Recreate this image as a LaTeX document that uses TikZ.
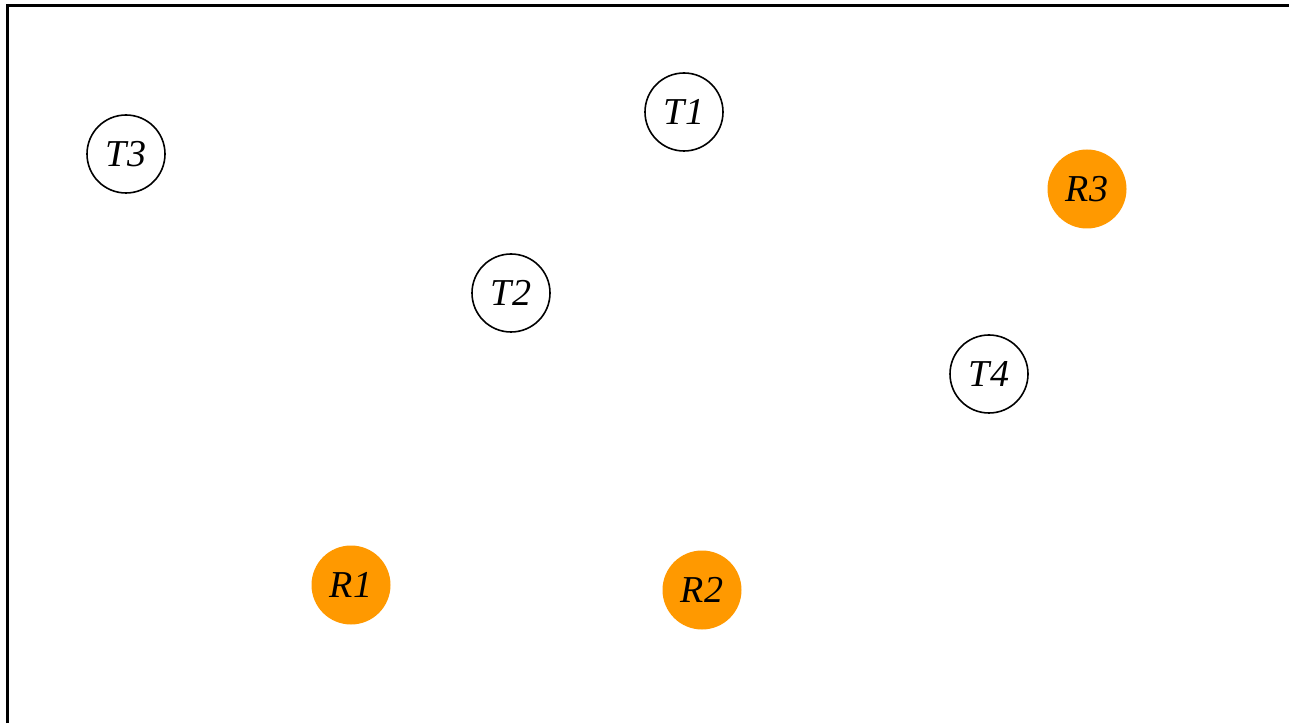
\documentclass[tikz,border=0pt]{standalone}
\usepackage{fontspec}
\setmainfont{Liberation Serif}
\definecolor{rorange}{HTML}{FF9900}
\begin{document}
\begin{tikzpicture}[x=1pt,y=1pt,
  tnode/.style={circle,draw=black,line width=1.6pt,fill=white,minimum size=78pt,inner sep=0pt,font=\fontsize{38}{42}\selectfont\itshape},
  rnode/.style={circle,fill=rorange,draw=none,minimum size=79pt,inner sep=0pt,font=\fontsize{38}{42}\selectfont\itshape}]
\useasboundingbox (0,0) rectangle (1289,723);
\fill[white] (0,0) rectangle (1289,723);
\coordinate (bl) at (7.5,0);
\coordinate (tl) at (7.5,717.5);
\coordinate (tr) at (1289,717.5);
\draw[line width=2.2pt] (bl) -- (tl) -- (tr);
\node[tnode] (T3) at (126,569) {T3};
\node[tnode] (T1) at (684,611) {T1};
\node[rnode] (R3) at (1087,534) {R3};
\node[tnode] (T2) at (511,430) {T2};
\node[tnode] (T4) at (989,349) {T4};
\node[rnode] (R1) at (351,138) {R1};
\node[rnode] (R2) at (702,133) {R2};
\end{tikzpicture}
\end{document}
